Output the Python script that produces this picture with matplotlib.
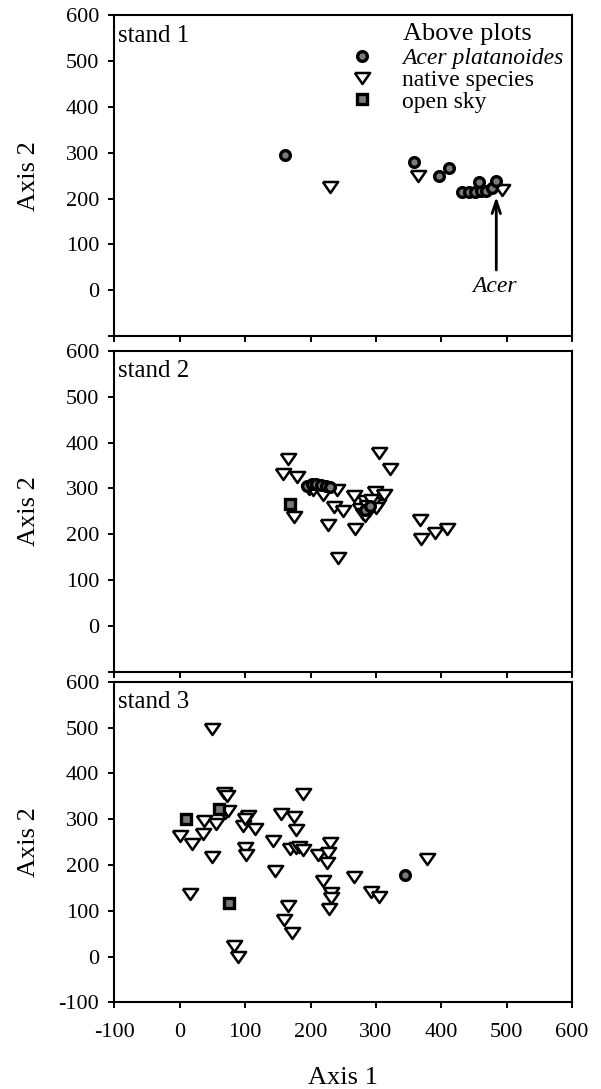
import matplotlib
matplotlib.use("Agg")
import matplotlib.pyplot as plt
from matplotlib.lines import Line2D

plt.rcParams["font.family"] = ["Liberation Serif", "DejaVu Serif"]
plt.rcParams["axes.unicode_minus"] = False

# ── data (ordination scores) ─────────────────────────────────────────────────
acer1_x = [161, 358, 396, 411, 432, 442, 452, 461, 469, 457, 478, 484]
acer1_y = [295, 280, 250, 267, 215, 215, 215, 216, 217, 235, 222, 238]
native1_x = [229, 365, 493]
native1_y = [226, 249, 218]
sky1_x = []
sky1_y = []

acer2_x = [195, 202, 209, 216, 223, 230, 284, 291]
acer2_y = [306, 309, 310, 308, 306, 303, 252, 262]
native2_x = [166, 158, 180, 305, 322, 240, 219, 197, 267, 283, 298, 313, 303,
             236, 249, 174, 227, 268, 368, 369, 391, 409, 242,
             276, 280, 286, 290, 295, 300, 283, 292, 204]
native2_y = [364, 332, 325, 378, 342, 297, 286, 299, 283, 273, 291, 286, 264,
             260, 251, 237, 220, 211, 230, 190, 203, 211, 149,
             255, 245, 262, 250, 268, 258, 240, 275, 297]
sky2_x = [169]
sky2_y = [266]

acer3_x = [344]
acer3_y = [178]
native3_x = [49, 0, 19, 36, 37, 56, 49, 15, 68, 72, 69, 73, 96, 104, 99, 102,
             115, 83, 89, 142, 146, 155, 174, 178, 169, 178, 182, 189, 189,
             166, 159, 172, 212, 229, 227, 225, 219, 231, 232, 228, 266, 293,
             305, 378, 100]
native3_y = [496, 264, 245, 268, 295, 290, 218, 137, 357, 350, 314, 318, 286,
             306, 237, 221, 278, 23, -1, 253, 187, 312, 304, 277, 234, 237,
             239, 232, 354, 110, 80, 52, 222, 247, 226, 205, 164, 138, 127,
             105, 174, 142, 131, 212, 300]
sky3_x = [9, 60, 75]
sky3_y = [300, 322, 116]

stands = [
    ("stand 1", acer1_x, acer1_y, native1_x, native1_y, sky1_x, sky1_y),
    ("stand 2", acer2_x, acer2_y, native2_x, native2_y, sky2_x, sky2_y),
    ("stand 3", acer3_x, acer3_y, native3_x, native3_y, sky3_x, sky3_y),
]

X_TICKS = [-100, 0, 100, 200, 300, 400, 500, 600]
Y_TICKS = [-100, 0, 100, 200, 300, 400, 500, 600]

# ── styles ───────────────────────────────────────────────────────────────────
TRI = [(-1, 0.72), (1, 0.72), (0, -0.72), (-1, 0.72)]
acer_style = dict(marker="o", markersize=7, markerfacecolor="#7a7a7a",
                  markeredgecolor="black", markeredgewidth=2.4, linestyle="none")
native_style = dict(marker=TRI, markersize=11, markerfacecolor="white",
                    markeredgecolor="black", markeredgewidth=1.8, linestyle="none")
sky_style = dict(marker="s", markersize=6.5, markerfacecolor="#7a7a7a",
                 markeredgecolor="black", markeredgewidth=2.4, linestyle="none")

fig = plt.figure(figsize=(6.01, 10.89), dpi=100)
bottoms = [0.6915, 0.3833, 0.0795]
height = 0.2945
left, width = 0.1903, 0.7617

axes = []
for i, (name, ax_, ay_, nx_, ny_, sx_, sy_) in enumerate(stands):
    ax = fig.add_axes([left, bottoms[i], width, height])
    axes.append(ax)
    ax.plot(nx_, ny_, zorder=3, **native_style)
    ax.plot(ax_, ay_, zorder=4, **acer_style)
    ax.plot(sx_, sy_, zorder=4, **sky_style)

    ax.set_xlim(-100, 600)
    ax.set_ylim(-100, 600)
    ax.set_xticks(X_TICKS)
    ax.set_yticks(Y_TICKS)
    ylabels = [str(t) for t in Y_TICKS]
    if i < 2:
        ylabels[0] = ""
        ax.set_xticklabels([])
    else:
        ax.set_xticklabels([str(t) for t in X_TICKS])
    ax.set_yticklabels(ylabels)
    ax.tick_params(direction="out", length=4.5, width=1.4, labelsize=16,
                   pad=6.5)
    ax.tick_params(axis="x", pad=10)
    for sp in ax.spines.values():
        sp.set_linewidth(1.5)

    ax.set_ylabel("Axis 2", fontsize=19)
    ax.yaxis.set_label_coords(-0.162, 0.5)
    ax.text(0.008, 0.918, name, transform=ax.transAxes, fontsize=18,
            va="baseline", ha="left")

axes[2].set_xlabel("Axis 1", fontsize=19)
axes[2].xaxis.set_label_coords(0.5, -0.20)

# legend + annotation in stand 1
ax = axes[0]
ax.text(0.630, 0.922, "Above plots", transform=ax.transAxes, fontsize=19,
        va="baseline", ha="left")
handles = [Line2D([], [], **acer_style), Line2D([], [], **native_style),
           Line2D([], [], **sky_style)]
labels = ["Acer platanoides", "native species", "open sky"]
leg = ax.legend(handles, labels, loc="upper left", bbox_to_anchor=(0.515, 0.898),
                frameon=False, fontsize=17, borderpad=0, borderaxespad=0,
                handlelength=1.0, handletextpad=1.2, labelspacing=0.0)
leg.get_texts()[0].set_fontstyle("italic")

ax.annotate("", xy=(484, 204), xytext=(484, 44),
            arrowprops=dict(arrowstyle="->,head_length=0.9,head_width=0.3",
                        lw=2, color="black", shrinkA=0, shrinkB=0))
ax.text(482, -4, "Acer", fontsize=17, style="italic", ha="center",
        va="baseline")

fig.savefig("out.png", dpi=100)
